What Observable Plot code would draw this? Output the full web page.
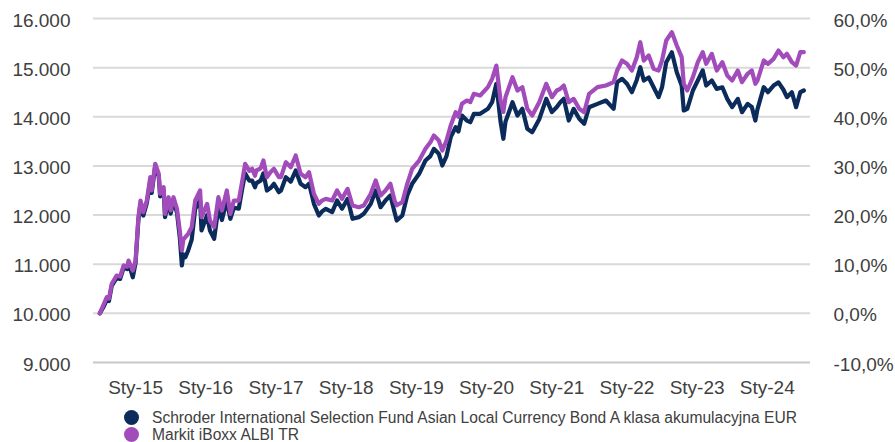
<!DOCTYPE html>
<html><head><meta charset="utf-8">
<script src="https://cdn.jsdelivr.net/npm/d3@7"></script>
<script src="https://cdn.jsdelivr.net/npm/@observablehq/plot@0.6"></script>
<style>
body{margin:0;background:#fff;font-family:"Liberation Sans",Arial,sans-serif;}
#chart{position:absolute;left:0;top:0;}
#legend{position:absolute;left:124px;top:409px;font-size:15.6px;color:#404040;line-height:17.3px;}
.item{display:flex;align-items:center;white-space:nowrap;height:17.3px;}
.dot{width:15px;height:15px;border-radius:50%;margin-right:13px;flex:none;}
</style></head><body><div id="chart"></div><div id="legend"></div>
<script>
// Decimal-year dates of the observations
const years = [
  2014.49, 2014.55, 2014.59, 2014.62, 2014.66, 2014.73, 2014.78, 2014.83, 2014.88, 2014.90, 2014.96,
  2015.00, 2015.04, 2015.07, 2015.11, 2015.16, 2015.21, 2015.23, 2015.28, 2015.33, 2015.35, 2015.40, 2015.42, 2015.47, 2015.50, 2015.54, 2015.59, 2015.63, 2015.66, 2015.68, 2015.71, 2015.75, 2015.80, 2015.85, 2015.92, 2015.94,
  2016.02, 2016.06, 2016.12, 2016.18, 2016.23, 2016.30, 2016.35, 2016.40, 2016.47, 2016.52, 2016.56, 2016.62, 2016.66, 2016.70, 2016.72, 2016.78, 2016.82, 2016.87, 2016.92, 2016.97,
  2017.04, 2017.07, 2017.14, 2017.21, 2017.28, 2017.35, 2017.42, 2017.47, 2017.54, 2017.61, 2017.66, 2017.71, 2017.80, 2017.87, 2017.94,
  2018.02, 2018.09, 2018.18, 2018.25, 2018.35, 2018.42, 2018.49, 2018.56, 2018.63, 2018.69, 2018.72, 2018.80, 2018.87, 2018.94,
  2019.04, 2019.13, 2019.20, 2019.25, 2019.32, 2019.37, 2019.43, 2019.49, 2019.56, 2019.60, 2019.65, 2019.72, 2019.77, 2019.82, 2019.91,
  2020.02, 2020.08, 2020.14, 2020.20, 2020.24, 2020.27, 2020.37, 2020.44, 2020.51, 2020.58, 2020.65, 2020.75, 2020.85, 2020.93,
  2021.00, 2021.05, 2021.10, 2021.17, 2021.24, 2021.32, 2021.39, 2021.46, 2021.58, 2021.70, 2021.81, 2021.86, 2021.93,
  2022.00, 2022.07, 2022.14, 2022.19, 2022.24, 2022.31, 2022.38, 2022.45, 2022.50, 2022.56, 2022.64, 2022.71, 2022.78, 2022.81, 2022.86, 2022.94,
  2023.01, 2023.08, 2023.13, 2023.21, 2023.28, 2023.36, 2023.43, 2023.50, 2023.58, 2023.64, 2023.72, 2023.78, 2023.83, 2023.86, 2023.95,
  2024.01, 2024.09, 2024.16, 2024.23, 2024.28, 2024.35, 2024.41, 2024.47, 2024.52
];
// Schroder ISF Asian Local Currency Bond A Acc EUR (left axis, 10 000 start)
const fund = [
  10000, 10150, 10280, 10250, 10560, 10720, 10700, 10930, 10900, 11030, 10735,
  11030, 11900, 12230, 11990, 12240, 12700, 12450, 13000, 12790, 12380, 12500, 11960, 12300, 12030, 12290, 12050, 11550, 10974, 11200, 11143, 11280, 11500, 12126, 12300, 11686,
  12000, 11686, 11517, 12150, 11900, 12300, 11924, 12150, 12130, 12550, 12850, 12700, 12700, 12567, 12650, 12700, 12850, 12500, 12550, 12636,
  12466, 12500, 12771, 12680, 12907, 12636, 12568, 12640, 12228, 11991, 12080, 12127, 12060, 12296, 12130,
  12330, 11924, 11958, 12025, 12228, 12500, 12161, 12296, 12400, 12050, 11889, 11991, 12400, 12636,
  12840, 13110, 13200, 13348, 13250, 13009, 13200, 13585, 13788, 13700, 14026, 13924, 13890, 14060, 14060,
  14162, 14297, 14671, 13900, 13552, 13900, 14297, 14026, 14162, 13755, 13687, 13950, 14365, 14094,
  14200, 14297, 14365, 13924, 14161, 13959, 13857, 14194, 14263, 14331, 14162, 14704, 14772,
  14671, 14500, 14750, 15009, 14738, 14800, 14600, 14399, 14600, 15111, 15314, 14908, 14636, 14128, 14162, 14535,
  14738, 14942, 14636, 14738, 14568, 14600, 14365, 14196, 14365, 14093, 14263, 14200, 13924, 14150, 14603,
  14500, 14636, 14700, 14550, 14399, 14500, 14195, 14500, 14535
];
// Markit iBoxx ALBI TR
const benchmark = [
  10000, 10200, 10329, 10300, 10601, 10770, 10750, 10974, 10950, 11075, 10870,
  11075, 11957, 12296, 12058, 12296, 12771, 12500, 13043, 12840, 12432, 12567, 12025, 12364, 12093, 12364, 12127, 11686, 11279, 11500, 11550, 11618, 11753, 12296, 12500, 11957,
  12228, 11889, 11754, 12364, 12093, 12500, 12025, 12296, 12296, 12703, 13043, 12900, 12941, 12800, 12907, 12950, 13110, 12771, 12873, 12941,
  12771, 12771, 13077, 12974, 13212, 12840, 12771, 12873, 12432, 12228, 12300, 12330, 12296, 12500, 12330,
  12534, 12195, 12161, 12195, 12432, 12703, 12398, 12500, 12636, 12296, 12200, 12262, 12636, 12941,
  13110, 13348, 13480, 13619, 13517, 13314, 13517, 13823, 14093, 14000, 14263, 14331, 14300, 14467, 14433,
  14603, 14772, 15043, 14331, 14100, 14399, 14806, 14535, 14603, 14162, 14026, 14297, 14671, 14399,
  14535, 14569, 14636, 14297, 14365, 14162, 14093, 14467, 14603, 14636, 14704, 14942, 15145,
  15078, 14942, 15213, 15518, 15145, 15247, 14976, 14942, 15145, 15552, 15721, 15450, 15213, 14671, 14535, 14806,
  15111, 15314, 15078, 15281, 14942, 15111, 14840, 14738, 14942, 14704, 14875, 14942, 14671, 14738, 15145,
  15078, 15179, 15349, 15213, 15281, 15111, 15043, 15314, 15314
];
const seriesNames = [
  "Schroder International Selection Fund Asian Local Currency Bond A klasa akumulacyjna EUR",
  "Markit iBoxx ALBI TR"
];
const seriesColors = ["#0b2b5b", "#a24cbc"];
const tickYears = [2015, 2016, 2017, 2018, 2019, 2020, 2021, 2022, 2023, 2024];
const tickLabels = ["Sty-15", "Sty-16", "Sty-17", "Sty-18", "Sty-19", "Sty-20", "Sty-21", "Sty-22", "Sty-23", "Sty-24"];
const leftTicks = [9000, 10000, 11000, 12000, 13000, 14000, 15000, 16000];
const leftLabels = ["9.000", "10.000", "11.000", "12.000", "13.000", "14.000", "15.000", "16.000"];
const rightLabels = ["-10,0%", "0,0%", "10,0%", "20,0%", "30,0%", "40,0%", "50,0%", "60,0%"];
const xDomainYears = [2014.40, 2024.615];

function toDate(y) {
  const yr = Math.floor(y);
  const s = Date.UTC(yr, 0, 1), e = Date.UTC(yr + 1, 0, 1);
  return new Date(s + (y - yr) * (e - s));
}

const rows = [];
years.forEach((y, i) => rows.push({date: toDate(y), value: fund[i], series: seriesNames[0]}));
years.forEach((y, i) => rows.push({date: toDate(y), value: benchmark[i], series: seriesNames[1]}));
const tickDates = tickYears.map(y => new Date(Date.UTC(y, 0, 1)));

const chart = Plot.plot({
  width: 895, height: 400,
  marginLeft: 93, marginRight: 85, marginTop: 18, marginBottom: 38,
  style: {fontFamily: "'Liberation Sans', Arial, sans-serif", fontSize: "19px", color: "#404040", background: "#fff"},
  x: {type: "utc", domain: xDomainYears.map(toDate)},
  y: {domain: [9000, 16000]},
  color: {domain: seriesNames, range: seriesColors},
  marks: [
    Plot.gridY(leftTicks.slice(1), {stroke: "#d9d9d9", strokeWidth: 2, strokeOpacity: 1}),
    Plot.ruleY([9000], {stroke: "#c8c8c8", strokeWidth: 2}),
    Plot.axisX(tickDates, {tickSize: 0, tickPadding: 18, fontSize: 19, label: null,
      tickFormat: d => tickLabels[tickYears.indexOf(d.getUTCFullYear())]}),
    Plot.axisY(leftTicks, {anchor: "left", tickSize: 0, tickPadding: 23, fontSize: 19, label: null, dy: 2,
      tickFormat: d => leftLabels[leftTicks.indexOf(d)]}),
    Plot.axisY(leftTicks, {anchor: "right", tickSize: 0, tickPadding: 23, fontSize: 19, label: null, dy: 2,
      tickFormat: d => rightLabels[leftTicks.indexOf(d)]}),
    Plot.lineY(rows, {x: "date", y: "value", stroke: "series", strokeWidth: 4.2, strokeLinejoin: "round"})
  ]
});
document.getElementById("chart").appendChild(chart);

const legend = document.getElementById("legend");
seriesNames.forEach((n, i) => {
  const item = document.createElement("div");
  item.className = "item";
  const dot = document.createElement("span");
  dot.className = "dot";
  dot.style.background = seriesColors[i];
  const label = document.createElement("span");
  label.textContent = n;
  item.appendChild(dot); item.appendChild(label);
  legend.appendChild(item);
});
</script></body></html>
